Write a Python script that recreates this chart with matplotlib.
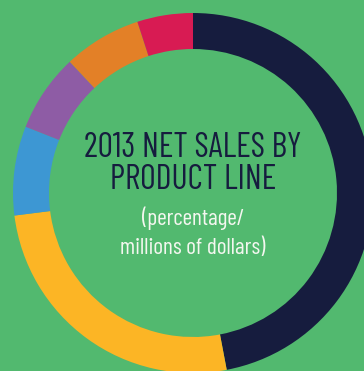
import matplotlib
matplotlib.use("Agg")
import matplotlib.pyplot as plt

# net sales share by product line, clockwise from 12 o'clock
lines = ["Line A", "Line B", "Line C", "Line D", "Line E", "Line F"]
shares = [47, 26, 8, 7, 7, 5]
colors = ["#161c3e", "#fcb525", "#3d97d3", "#8e5ca5", "#e38027", "#d81b53"]

bg = "#52b96f"
W, H = 364, 371

fig = plt.figure(figsize=(W / 100, H / 100), dpi=100, facecolor=bg)
ax = fig.add_axes([0, 0, 1, 1])
ax.set_facecolor(bg)

ax.pie(shares, colors=colors, startangle=90, counterclock=False,
       center=(193, H - 193), radius=180,
       wedgeprops=dict(width=36, linewidth=0, antialiased=True))
ax.set_xlim(0, W)
ax.set_ylim(0, H)
ax.set_aspect("equal")
ax.axis("off")

fam = ["Barlow Condensed", "DejaVu Sans"]
ax.text(193, H - 157, "2013 NET SALES BY", ha="center", va="baseline",
        fontsize=24.5, color="#161c3e", family=fam, weight="normal")
ax.text(193, H - 189, "PRODUCT LINE", ha="center", va="baseline",
        fontsize=24.5, color="#161c3e", family=fam, weight="normal")
ax.text(193, H - 225, "(percentage/", ha="center", va="baseline",
        fontsize=16.8, color="#f4f7f0", family=fam, weight="normal")
ax.text(193, H - 254, "millions of dollars)", ha="center", va="baseline",
        fontsize=16.8, color="#f4f7f0", family=fam, weight="normal")

fig.savefig("out.png", facecolor=bg)
